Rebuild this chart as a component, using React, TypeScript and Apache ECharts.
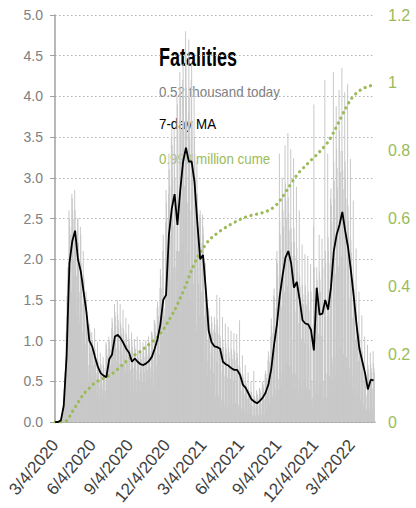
import React, { useEffect, useRef } from 'react';
import * as echarts from 'echarts';

// ---------- data ----------
const START_DATE = '2020-03-04';

// Daily fatalities, thousands (one row per week, starting on Wednesdays)
const DAILY_DEATHS = [
  0.002, 0.003, 0.003, 0.004, 0.002, 0.005, 0.008,
  0.008, 0.01, 0.012, 0.01, 0.012, 0.02, 0.025,
  0.03, 0.05, 0.07, 0.1, 0.11, 0.14, 0.2,
  0.3, 0.4, 0.55, 0.62, 0.6, 0.8, 1.1,
  1.3, 1.55, 1.75, 1.9, 1.7, 1.6, 2.6,
  2.5, 2.4, 2.3, 2.0, 1.6, 1.6, 2.8,
  2.75, 2.6, 2.5, 2.0, 1.6, 1.8, 2.85,
  2.6, 2.3, 2.1, 1.8, 1.3, 1.5, 2.5,
  2.5, 2.2, 1.9, 1.6, 1.2, 1.3, 2.4,
  2.3, 1.95, 1.7, 1.45, 0.85, 1.1, 2.1,
  1.8, 1.75, 1.6, 1.2, 0.85, 0.95, 1.6,
  1.5, 1.3, 1.2, 1.0, 0.6, 0.5, 0.7,
  1.2, 1.15, 1.1, 0.85, 0.6, 0.55, 1.1,
  1.0, 1.0, 0.9, 0.7, 0.4, 0.58, 1.15,
  0.9, 0.84, 0.77, 0.6, 0.35, 0.5, 0.98,
  0.77, 0.73, 0.68, 0.52, 0.3, 0.42, 0.85,
  0.72, 0.7, 0.63, 0.48, 0.28, 0.4, 0.8,
  0.7, 0.66, 0.55, 0.3, 0.25, 0.38, 0.98,
  0.95, 0.9, 0.82, 0.65, 0.38, 0.52, 1.05,
  1.0, 0.98, 0.9, 0.7, 0.42, 0.57, 1.15,
  1.28, 1.22, 1.12, 0.87, 0.5, 0.7, 1.45,
  1.35, 1.3, 1.18, 0.9, 0.52, 0.75, 1.5,
  1.32, 1.25, 1.15, 0.88, 0.5, 0.72, 1.45,
  1.22, 1.18, 1.08, 0.84, 0.48, 0.69, 1.38,
  1.15, 1.1, 1.0, 0.78, 0.45, 0.63, 1.28,
  1.08, 1.04, 0.95, 0.73, 0.43, 0.6, 1.2,
  1.02, 0.96, 0.88, 0.64, 0.38, 0.3, 1.1,
  1.0, 0.92, 0.85, 0.66, 0.38, 0.54, 1.02,
  0.94, 0.9, 0.83, 0.64, 0.37, 0.52, 1.05,
  0.89, 0.85, 0.78, 0.6, 0.35, 0.5, 0.99,
  0.88, 0.84, 0.77, 0.6, 0.35, 0.49, 0.98,
  0.9, 0.86, 0.8, 0.61, 0.36, 0.5, 1.0,
  0.94, 0.9, 0.83, 0.64, 0.37, 0.52, 1.05,
  0.99, 0.95, 0.87, 0.67, 0.4, 0.55, 1.11,
  1.11, 1.07, 0.98, 0.76, 0.44, 0.62, 1.25,
  1.25, 1.2, 1.1, 0.85, 0.5, 0.7, 1.4,
  1.48, 1.42, 1.3, 1.0, 0.59, 0.83, 1.65,
  1.88, 1.8, 1.65, 1.28, 0.75, 1.05, 2.1,
  2.3, 1.3, 1.4, 1.3, 0.85, 1.25, 2.45,
  2.85, 2.7, 2.5, 2.0, 1.1, 1.5, 2.8,
  3.3, 3.1, 2.9, 2.3, 1.3, 1.75, 3.5,
  3.6, 3.4, 3.0, 2.4, 1.4, 1.9, 3.6,
  3.5, 3.0, 1.4, 1.9, 1.5, 2.1, 4.0,
  3.9, 3.6, 1.6, 2.1, 1.7, 2.1, 4.3,
  4.1, 4.0, 3.6, 2.7, 1.7, 2.2, 4.2,
  4.4, 4.0, 3.7, 2.9, 1.8, 1.8, 4.8,
  4.5, 4.1, 3.7, 2.7, 1.7, 2.1, 3.8,
  4.7, 4.0, 3.5, 2.6, 1.5, 1.9, 4.2,
  4.4, 3.7, 3.3, 2.4, 1.4, 1.7, 4.1,
  3.5, 3.3, 3.0, 2.2, 1.2, 1.1, 3.2,
  2.8, 2.6, 2.4, 1.7, 1.0, 1.3, 2.55,
  2.6, 2.5, 2.2, 1.6, 1.0, 1.2, 2.55,
  2.4, 2.3, 2.0, 1.3, 0.75, 0.9, 1.95,
  1.65, 1.55, 1.4, 1.0, 0.55, 0.75, 1.35,
  1.4, 1.3, 1.2, 0.85, 0.45, 0.65, 1.15,
  1.3, 1.22, 1.1, 0.8, 0.42, 0.6, 1.14,
  1.29, 1.2, 1.1, 0.32, 0.23, 0.74, 1.56,
  1.26, 1.17, 1.08, 0.32, 0.22, 0.72, 1.53,
  1.06, 0.99, 0.91, 0.27, 0.19, 0.61, 1.29,
  0.99, 0.92, 0.85, 0.25, 0.18, 0.57, 1.21,
  0.97, 0.9, 0.83, 0.24, 0.17, 0.55, 1.17,
  0.92, 0.86, 0.79, 0.23, 0.17, 0.53, 1.12,
  0.9, 0.83, 0.77, 0.22, 0.16, 0.51, 1.09,
  0.88, 0.85, 0.76, 0.23, 0.16, 0.52, 1.08,
  0.85, 0.79, 0.7, 0.21, 0.15, 0.18, 1.25,
  0.67, 0.62, 0.58, 0.17, 0.12, 0.38, 0.82,
  0.59, 0.55, 0.5, 0.15, 0.11, 0.34, 0.7,
  0.5, 0.47, 0.43, 0.13, 0.09, 0.29, 0.61,
  0.41, 0.38, 0.35, 0.1, 0.07, 0.23, 0.49,
  0.37, 0.34, 0.2, 0.08, 0.05, 0.08, 0.63,
  0.32, 0.3, 0.28, 0.08, 0.06, 0.18, 0.39,
  0.35, 0.33, 0.3, 0.09, 0.06, 0.2, 0.42,
  0.41, 0.38, 0.35, 0.1, 0.07, 0.23, 0.49,
  0.49, 0.46, 0.42, 0.12, 0.09, 0.28, 0.59,
  0.63, 0.59, 0.54, 0.16, 0.11, 0.36, 0.76,
  0.87, 0.81, 0.74, 0.22, 0.16, 0.5, 1.05,
  1.27, 1.18, 1.09, 0.32, 0.23, 0.73, 1.55,
  1.64, 1.52, 1.4, 0.41, 0.29, 0.94, 1.99,
  2.1, 1.95, 1.8, 0.53, 0.38, 0.4, 3.3,
  2.48, 2.3, 2.12, 0.62, 0.44, 1.42, 3.0,
  2.8, 2.6, 2.4, 0.7, 0.5, 1.6, 3.4,
  2.93, 2.72, 2.51, 0.73, 0.52, 1.67, 3.55,
  2.76, 2.56, 2.36, 0.69, 0.49, 1.58, 3.35,
  2.38, 2.21, 2.04, 0.6, 0.43, 1.0, 3.24,
  2.38, 2.21, 2.04, 0.6, 0.43, 1.36, 2.89,
  2.14, 1.99, 1.84, 0.54, 0.38, 1.22, 2.6,
  1.79, 1.66, 1.54, 0.45, 0.32, 1.02, 2.18,
  1.69, 1.57, 1.45, 0.42, 0.3, 0.97, 2.06,
  1.68, 1.56, 1.44, 0.42, 0.3, 0.96, 2.04,
  1.6, 1.48, 1.37, 0.4, 0.29, 0.91, 1.94,
  1.6, 0.25, 0.5, 0.3, 0.2, 1.2, 2.4,
  3.9, 1.9, 1.65, 0.45, 0.35, 1.05, 1.55,
  1.9, 1.75, 1.6, 0.47, 0.34, 1.08, 2.3,
  1.85, 1.75, 1.6, 0.47, 0.33, 1.06, 2.25,
  2.0, 1.9, 0.5, 0.3, 0.25, 1.4, 4.2,
  2.1, 1.95, 0.6, 0.3, 0.25, 1.3, 3.3,
  2.27, 2.1, 1.95, 0.57, 0.4, 1.3, 2.75,
  2.87, 2.67, 2.46, 0.72, 0.51, 0.8, 4.3,
  3.19, 2.96, 2.74, 0.8, 0.57, 1.82, 3.88,
  3.36, 3.12, 2.88, 0.84, 0.6, 1.92, 4.08,
  3.58, 3.33, 3.07, 0.9, 0.64, 2.05, 4.35,
  3.33, 3.09, 2.86, 0.83, 0.6, 1.9, 4.05,
  3.2, 3.0, 2.75, 0.8, 0.6, 0.75, 4.15,
  2.66, 2.47, 2.28, 0.67, 0.48, 1.52, 3.23,
  2.24, 2.08, 1.92, 0.56, 0.4, 1.28, 2.72,
  1.75, 1.63, 1.5, 0.44, 0.31, 1.0, 2.13,
  1.32, 1.22, 1.13, 0.33, 0.24, 0.75, 1.6,
  1.08, 1.0, 0.92, 0.27, 0.19, 0.62, 1.31,
  0.87, 0.81, 0.74, 0.22, 0.16, 0.5, 1.05,
  0.6, 0.56, 0.3, 0.15, 0.11, 0.34, 0.95,
  0.7, 0.65, 0.6, 0.18, 0.13, 0.4, 0.85,
  0.71, 0.66, 0.61, 0.18, 0.13, 0.41, 0.87,
  0.72, 0.66, 0.6, 0.18,
];

// 7-day moving average, thousands, read once a week
const MA_STEP_DAYS = 7;
const MA_7DAY = [
  0, 0, 0.02, 0.2, 0.8, 1.95, 2.22, 2.35, 2.0, 1.85,
  1.6, 1.35, 1.0, 0.93, 0.8, 0.68, 0.6, 0.57, 0.55, 0.77,
  0.83, 1.05, 1.07, 1.03, 0.97, 0.9, 0.85, 0.74, 0.78, 0.74,
  0.71, 0.7, 0.72, 0.75, 0.8, 0.9, 1.02, 1.2, 1.5, 1.56,
  2.3, 2.62, 2.8, 2.42, 2.85, 3.2, 3.37, 3.2, 3.2, 2.95,
  2.45, 2.0, 2.05, 1.62, 1.12, 0.98, 0.93, 0.92, 0.9, 0.74,
  0.71, 0.69, 0.66, 0.64, 0.64, 0.58, 0.46, 0.42, 0.35, 0.28,
  0.25, 0.23, 0.26, 0.3, 0.36, 0.46, 0.65, 0.95, 1.2, 1.55,
  1.8, 2.02, 2.1, 1.95, 1.65, 1.72, 1.5, 1.25, 1.21, 1.2,
  1.13, 0.88, 1.65, 1.32, 1.33, 1.5, 1.38, 1.65, 2.1, 2.3,
  2.42, 2.58, 2.35, 2.15, 1.87, 1.55, 1.2, 0.9, 0.75, 0.6,
  0.4, 0.52, 0.51,
];

// Cumulative fatalities, millions, read every two weeks
const CUME_STEP_DAYS = 14;
const CUME_MILLIONS = [
  0, 0, 0.004, 0.03, 0.057, 0.082, 0.1, 0.116, 0.125, 0.133,
  0.142, 0.156, 0.171, 0.186, 0.198, 0.208, 0.222, 0.236, 0.25, 0.272,
  0.3, 0.33, 0.365, 0.405, 0.448, 0.485, 0.512, 0.535, 0.55, 0.563,
  0.574, 0.584, 0.593, 0.601, 0.607, 0.611, 0.615, 0.62, 0.628, 0.642,
  0.664, 0.69, 0.716, 0.738, 0.755, 0.772, 0.788, 0.806, 0.826, 0.855,
  0.888, 0.922, 0.951, 0.97, 0.982, 0.989, 0.994,
];

const TITLE = 'Fatalities';
const NOTE_TODAY = '0.52 thousand today';
const NOTE_MA = '7-day MA';
const NOTE_CUME = '0.993 million cume';

const LABEL_MONTHS = [3, 6, 9, 12];
const LABEL_DAY = 4;

// ---------- styling ----------
const FONT = "'Liberation Sans', Arial, sans-serif";
const GREEN = '#9BBB59';
const GRAY_TEXT = '#808080';

function buildDates(): string[] {
  const out: string[] = [];
  const d = new Date(START_DATE + 'T00:00:00Z');
  for (let i = 0; i < DAILY_DEATHS.length; i++) {
    out.push(`${d.getUTCMonth() + 1}/${d.getUTCDate()}/${d.getUTCFullYear()}`);
    d.setUTCDate(d.getUTCDate() + 1);
  }
  return out;
}

const isLabelDate = (_i: number, v: string) => {
  const [m, day] = v.split('/').map(Number);
  return day === LABEL_DAY && LABEL_MONTHS.includes(m);
};

export default function App() {
  const ref = useRef<HTMLDivElement>(null);
  useEffect(() => {
    document.body.style.margin = '0';
    const chart = echarts.init(ref.current!, null, { renderer: 'svg' });
    const dates = buildDates();
    chart.setOption({
      animation: false,
      backgroundColor: '#ffffff',
      grid: { left: 55, right: 41, top: 15, bottom: 86 },
      xAxis: {
        type: 'category',
        data: dates,
        boundaryGap: true,
        axisLine: { lineStyle: { color: '#a0a0a0', width: 1.5 } },
        axisTick: { interval: isLabelDate, alignWithLabel: true, length: 5, lineStyle: { color: '#a0a0a0', width: 1.5 } },
        axisLabel: {
          interval: isLabelDate,
          rotate: 50,
          margin: 20,
          color: '#404040',
          fontFamily: FONT,
          fontSize: 17,
        },
        splitLine: { show: false },
      },
      yAxis: [
        {
          type: 'value',
          min: 0,
          max: 5,
          interval: 0.5,
          axisLine: { show: true, lineStyle: { color: '#a0a0a0', width: 1.5 } },
          axisTick: { show: true, length: 5, lineStyle: { color: '#a0a0a0' } },
          axisLabel: {
            color: GRAY_TEXT,
            fontFamily: FONT,
            fontSize: 14,
            margin: 12,
            formatter: (v: number) => v.toFixed(1),
          },
          splitLine: { show: true, lineStyle: { color: '#b4b4b4', type: [1.5, 2.5], width: 1.2 } },
        },
        {
          type: 'value',
          min: 0,
          max: 1.2,
          interval: 0.2,
          position: 'right',
          axisLine: { show: false },
          axisTick: { show: false },
          axisLabel: {
            color: GREEN,
            fontFamily: FONT,
            fontSize: 16,
            margin: 13,
            formatter: (v: number) => String(+v.toFixed(1)),
          },
          splitLine: { show: false },
        },
      ],
      graphic: [
        { type: 'text', z: 0, x: 159, y: 57, scaleX: 0.72, style: { text: TITLE, font: `bold 25px ${FONT}`, fill: '#000', verticalAlign: 'middle' } },
        { type: 'text', z: 0, x: 159, y: 92, scaleX: 0.89, style: { text: NOTE_TODAY, font: `15px ${FONT}`, fill: GRAY_TEXT, verticalAlign: 'middle' } },
        { type: 'text', z: 0, x: 159, y: 124, scaleX: 0.89, style: { text: NOTE_MA, font: `15px ${FONT}`, fill: '#000', verticalAlign: 'middle' } },
        { type: 'text', z: 0, x: 159, y: 159, scaleX: 0.89, style: { text: NOTE_CUME, font: `15px ${FONT}`, fill: GREEN, verticalAlign: 'middle' } },
      ],
      series: [
        {
          type: 'bar',
          yAxisIndex: 0,
          data: DAILY_DEATHS,
          barCategoryGap: '30%',
          itemStyle: { color: '#c8c8c8' },
          silent: true,
        },
        {
          type: 'line',
          yAxisIndex: 0,
          data: MA_7DAY.map((v, i) => [i * MA_STEP_DAYS, v]),
          symbol: 'none',
          lineStyle: { color: '#000', width: 1.8 },
          z: 4,
        },
        {
          type: 'line',
          yAxisIndex: 1,
          data: CUME_MILLIONS.map((v, i) => [i * CUME_STEP_DAYS, v]),
          symbol: 'none',
          smooth: 0.3,
          lineStyle: { color: GREEN, width: 3.2, type: [0.1, 5.6], cap: 'round' },
          z: 3,
        },
      ],
    });
    return () => chart.dispose();
  }, []);
  return <div ref={ref} style={{ position: 'absolute', left: 0, top: 0, width: 416, height: 508 }} />;
}
